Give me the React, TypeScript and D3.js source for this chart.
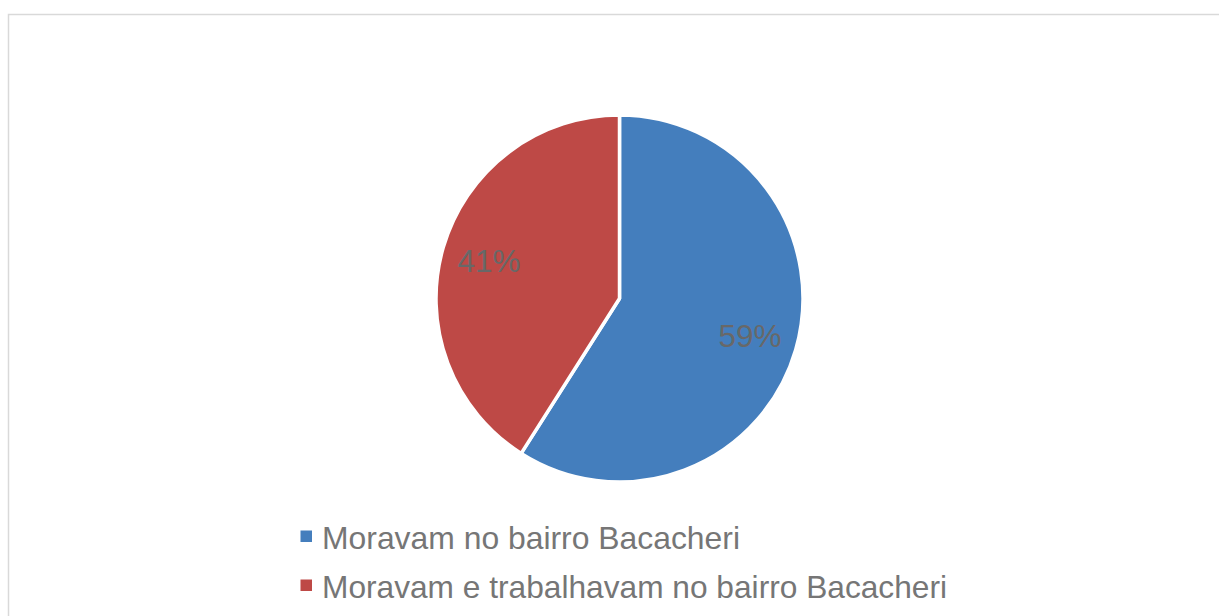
import React from "react";
import * as d3 from "d3";

const categories = ["Moravam no bairro Bacacheri", "Moravam e trabalhavam no bairro Bacacheri"];
const values = [59, 41];
const labels = ["59%", "41%"];
const colors = ["#447EBD", "#BE4946"];

const W = 1219;
const H = 616;

export default function App() {
  const cx = 619.5;
  const cy = 298.5;
  const r = 183.5;
  const pie = d3.pie<number>().sort(null).value((d) => d);
  const arcs = pie(values);
  const arc = d3.arc<d3.PieArcDatum<number>>().innerRadius(0).outerRadius(r);
  const labelArc = d3.arc<d3.PieArcDatum<number>>().innerRadius(136).outerRadius(136);
  const font = "'Liberation Sans', Arial, sans-serif";
  const legend = d3.scaleBand<number>().domain(categories.map((_, i) => i)).range([513, 611]);

  return (
    <svg
      width={W}
      height={H}
      style={{ position: "absolute", left: 0, top: 0, background: "#fff" }}
    >
      <rect x={8.5} y={14.5} width={W + 20} height={H + 20} fill="#fff" stroke="#d9d9d9" strokeWidth={1.5} />
      <g transform={`translate(${cx},${cy})`}>
        {arcs.map((a, i) => (
          <path key={i} d={arc(a) || ""} fill={colors[i]} stroke="#fff" strokeWidth={3.5} strokeLinejoin="round" />
        ))}
        {arcs.map((a, i) => {
          const [x, y] = labelArc.centroid(a);
          return (
            <text
              key={"l" + i}
              x={x}
              y={y}
              textAnchor="middle"
              dominantBaseline="central"
              fontFamily={font}
              fontSize={31.5}
              fill="#686868"
            >
              {labels[i]}
            </text>
          );
        })}
      </g>
      {categories.map((c, i) => {
        const y = (legend(i) as number) + legend.bandwidth() / 2;
        return (
          <g key={"lg" + i}>
            <rect x={300.5} y={y - 7} width={11.5} height={11.5} fill={colors[i]} />
            <text
              x={322}
              y={y + 11}
              fontFamily={font}
              fontSize={30.5}
              textLength={i === 0 ? 418 : 625}
              lengthAdjust="spacingAndGlyphs"
              fill="#767676"
            >
              {c}
            </text>
          </g>
        );
      })}
    </svg>
  );
}
